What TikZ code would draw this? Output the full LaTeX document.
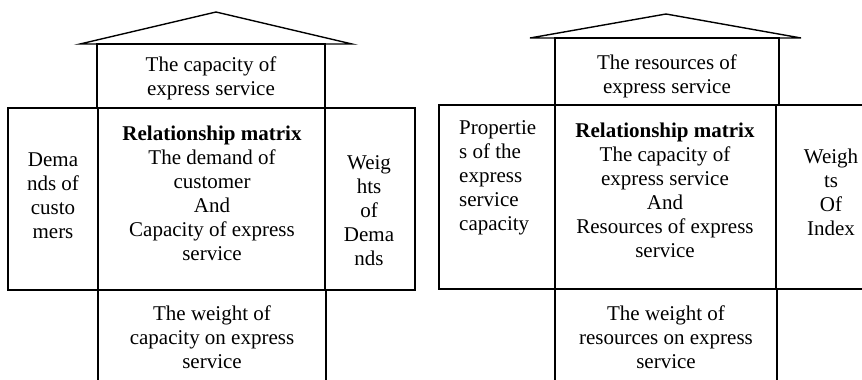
\documentclass[tikz,border=0pt]{standalone}
\usepackage{fontspec}
\setmainfont{Liberation Serif}
\usepackage{tikz}

\tikzset{
    cell/.style={draw, line width=1.4pt, rectangle, inner sep=0pt},
    txt/.style={font=\fontsize{21}{24}\selectfont, align=center, inner sep=0pt},
    roof/.style={draw, line width=1.4pt}
}

\begin{document}
\begin{tikzpicture}[x=1pt, y=-1pt]
        \useasboundingbox (0,0) rectangle (862,380);
        \clip (0,0) rectangle (862,380);

        % left house
        \draw[roof] (80,44) -- (216,12) -- (352,44) -- cycle;
        \node[cell, minimum width=228pt, minimum height=64pt]  (capL)  at (211,76)    {};
        \node[cell, minimum width=90pt,  minimum height=182pt] (demL)  at (53,199)    {};
        \node[cell, minimum width=227pt, minimum height=182pt] (matL)  at (211.5,199) {};
        \node[cell, minimum width=90pt,  minimum height=182pt] (wdemL) at (370,199)   {};
        \node[cell, minimum width=228pt, minimum height=110pt] (wcapL) at (212,345)   {};

        \node[txt] (capLT)  at (211,78)  {The capacity of\\express service};
        \node[txt] (demLT)  at (53,196)  {Dema\\nds of\\custo\\mers};
        \node[txt] (matLT)  at (212,193) {\textbf{Relationship matrix}\\The demand of\\customer\\And\\Capacity of express\\service};
        \node[txt] (wdemLT) at (369,211) {Weig\\hts\\of\\Dema\\nds};
        \node[txt] (wcapLT) at (212,337) {The weight of\\capacity on express\\service};

        % right house
        \draw[roof] (530,38) -- (666,14) -- (801,38) -- cycle;
        \node[cell, minimum width=224pt, minimum height=67pt]  (resR)  at (667,71.5)  {};
        \node[cell, minimum width=116pt, minimum height=184pt] (propR) at (497,197)   {};
        \node[cell, minimum width=221pt, minimum height=184pt] (matR)  at (665.5,197) {};
        \node[cell, minimum width=114pt, minimum height=184pt] (widxR) at (833,197)   {};
        \node[cell, minimum width=222pt, minimum height=111pt] (wresR) at (666,344.5) {};

        \node[txt] (resRT)  at (667,76)  {The resources of\\express service};
        \node[txt, align=left, anchor=west] (propRT) at (459,177.5) {Propertie\\s of the\\express\\service\\capacity};
        \node[txt] (matRT)  at (665,190) {\textbf{Relationship matrix}\\The capacity of\\express service\\And\\Resources of express\\service};
        \node[txt] (widxRT) at (831,192) {Weigh\\ts\\Of\\Index};
        \node[txt] (wresRT) at (666,337) {The weight of\\resources on express\\service};
    \end{tikzpicture}
\end{document}
